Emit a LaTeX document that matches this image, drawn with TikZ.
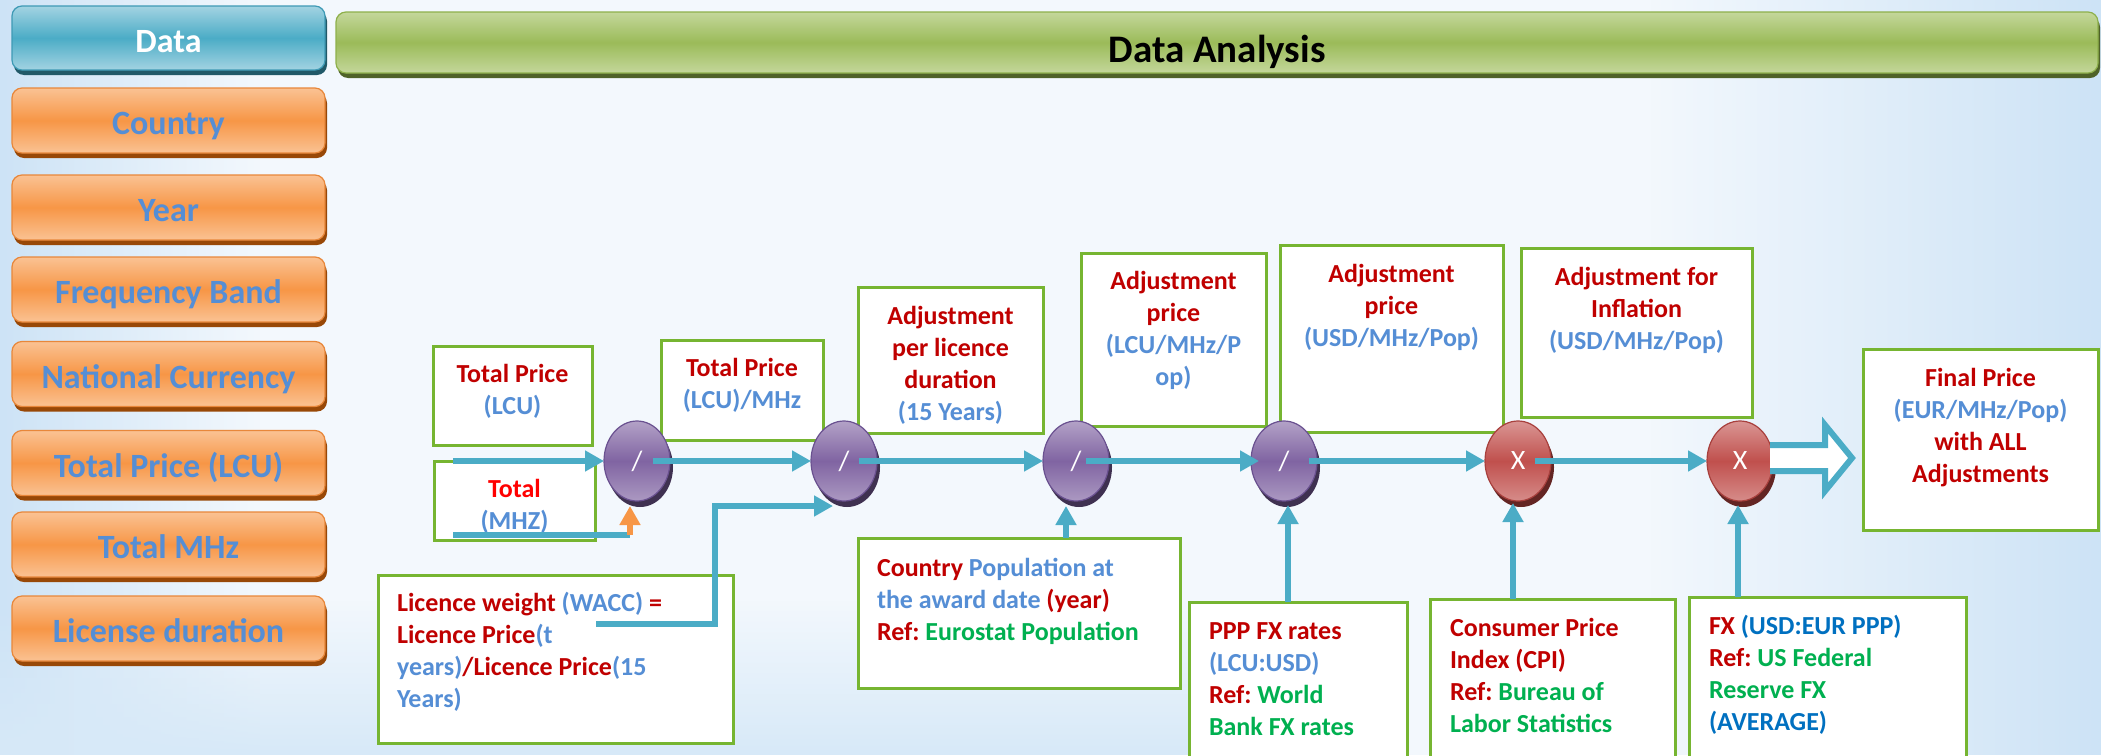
\documentclass[tikz,border=0pt]{standalone}
\usepackage{fontspec}
\setmainfont{Carlito}
\frenchspacing
\usetikzlibrary{arrows.meta,shapes.geometric,shadows,fadings,calc}

\definecolor{cred}{HTML}{C00000}
\definecolor{cbrred}{HTML}{FF0000}
\definecolor{cblue}{HTML}{558ED5}
\definecolor{cgreen}{HTML}{00B050}
\definecolor{cdblue}{HTML}{0070C0}
\definecolor{gborder}{HTML}{76B531}
\definecolor{ablue}{HTML}{4BACC6}
\definecolor{aorange}{HTML}{F79646}
\definecolor{bgbase}{HTML}{F3F8FD}
\definecolor{bgblue}{HTML}{CDE3F6}
\definecolor{glight}{HTML}{C4D79B}
\definecolor{gmid}{HTML}{9BBB59}
\definecolor{gline}{HTML}{8EB04B}
\definecolor{gdark}{HTML}{4F6228}
\definecolor{blight}{HTML}{A3D3E2}
\definecolor{bmid}{HTML}{4BACC6}
\definecolor{bline}{HTML}{3E9AB5}
\definecolor{bdark}{HTML}{215968}
\definecolor{olight}{HTML}{FAC293}
\definecolor{omid}{HTML}{F79646}
\definecolor{oline}{HTML}{E8873A}
\definecolor{odark}{HTML}{984807}
\definecolor{plight}{HTML}{B3A2C7}
\definecolor{pmid}{HTML}{8064A2}
\definecolor{pline}{HTML}{6A5190}
\definecolor{pdark}{HTML}{3F3151}
\definecolor{rlight}{HTML}{DA9694}
\definecolor{rmid}{HTML}{C0504D}
\definecolor{rline}{HTML}{A8403D}
\definecolor{rdark}{HTML}{632523}

\newcommand\cR[1]{\textcolor{cred}{#1}}
\newcommand\cRR[1]{\textcolor{cbrred}{#1}}
\newcommand\cB[1]{\textcolor{cblue}{#1}}
\newcommand\cG[1]{\textcolor{cgreen}{#1}}
\newcommand\cD[1]{\textcolor{cdblue}{#1}}
\newcommand\ctab[1]{\begin{tabular}[t]{@{}c@{}}#1\end{tabular}}
\newcommand\ltab[1]{\begin{tabular}[t]{@{}l@{}}#1\end{tabular}}

\tikzfading[name=fadeRight, left color=transparent!0, right color=transparent!100]
\tikzfading[name=fadeLeft, left color=transparent!100, right color=transparent!0]
\tikzfading[name=fadeUp, bottom color=transparent!0, top color=transparent!100]

\begin{document}
\begin{tikzpicture}[x=1pt,y=-1pt,
  every node/.style={inner sep=0pt, outer sep=0pt},
  side/.style={rounded corners=10pt, line width=1.2pt, minimum width=313pt, minimum height=65pt,
    font=\fontsize{34}{40}\selectfont\bfseries, text height=28pt, text depth=0pt},
  obox/.style={side, draw=oline, top color=olight, bottom color=olight, middle color=omid, text=cblue,
    drop shadow={shadow xshift=2pt, shadow yshift=-5pt, fill=odark, opacity=1}},
  dbox/.style={side, draw=bline, top color=blight, bottom color=blight, middle color=bmid, text=white,
    minimum height=64pt,
    drop shadow={shadow xshift=2pt, shadow yshift=-5pt, fill=bdark, opacity=1}},
  hbox/.style={side, draw=gline, top color=glight, bottom color=glight, middle color=gmid, text=black,
    minimum width=1762pt, minimum height=61pt, font=\fontsize{39}{44}\selectfont\bfseries,
    text height=39pt,
    drop shadow={shadow xshift=2pt, shadow yshift=-5pt, fill=gdark, opacity=1}},
  gbox/.style={draw=gborder, line width=3pt, fill=white},
  txt/.style={font=\fontsize{26}{32}\selectfont\bfseries, anchor=base},
  txtl/.style={txt, anchor=base west},
  circ/.style={ellipse, minimum width=66pt, minimum height=80pt, line width=1.2pt, text=white,
    font=\fontsize{28}{32}\selectfont},
  pcirc/.style={circ, draw=pline, top color=plight, bottom color=plight!85!pmid, middle color=pmid,
    drop shadow={shadow xshift=3pt, shadow yshift=-6pt, fill=pdark, opacity=1}},
  rcirc/.style={circ, draw=rline, top color=rlight, bottom color=rlight!85!rmid, middle color=rmid,
    drop shadow={shadow xshift=3pt, shadow yshift=-6pt, fill=rdark, opacity=1}},
  flow/.style={draw=ablue, line width=6.5pt, -{Triangle[length=19pt,width=20pt]}},
  flowline/.style={draw=ablue, line width=6.5pt},
  oflow/.style={draw=aorange, line width=6pt, -{Triangle[length=19pt,width=20pt]}}
]
\useasboundingbox (0,0) rectangle (2101,755);
% background
\fill[bgbase] (0,0) rectangle (2101,755);
\fill[bgblue, path fading=fadeRight] (0,0) rectangle (260,755);
\fill[bgblue, path fading=fadeLeft] (1650,0) rectangle (2101,755);
\fill[bgblue!80, path fading=fadeUp] (0,600) rectangle (1200,755);

% left column
\node[dbox] (data) at (168.5,38) {Data};
\node[obox] (country) at (168.5,120.5) {Country};
\node[obox] (year) at (168.5,207.5) {Year};
\node[obox] (freq) at (168.5,289.5) {Frequency Band};
\node[obox] (natcur) at (168.5,374) {National Currency};
\node[obox] (tplcu) at (168.5,463) {Total Price (LCU)};
\node[obox] (tmhz) at (168.5,544.5) {Total MHz};
\node[obox] (lidur) at (168.5,628.5) {License duration};

% header
\node[hbox] (hdr) at (1217,42.5) {Data Analysis};

% flow boxes
\node[gbox, minimum width=159pt, minimum height=99pt] (b1) at (512.5,395.5) {};
\node[gbox, minimum width=161pt, minimum height=79pt] (b2) at (514.5,500.5) {};
\node[gbox, minimum width=162pt, minimum height=100pt] (b3) at (742,390) {};
\node[gbox, minimum width=185pt, minimum height=146pt] (b4) at (950.5,360) {};
\node[gbox, minimum width=185pt, minimum height=173pt] (b5) at (1173.5,339.5) {};
\node[gbox, minimum width=223pt, minimum height=187pt] (b6) at (1391.5,338.5) {};
\node[gbox, minimum width=231pt, minimum height=169pt] (b7) at (1636.5,332.5) {};
\node[gbox, minimum width=235pt, minimum height=181pt] (b8) at (1980.5,439.5) {};
\node[gbox, minimum width=355pt, minimum height=168pt] (lw) at (555.5,659) {};
\node[gbox, minimum width=322pt, minimum height=150pt] (p1) at (1019,613) {};
\node[gbox, minimum width=218pt, minimum height=168pt] (p2) at (1298,686) {};
\node[gbox, minimum width=245pt, minimum height=171pt] (p3) at (1552.5,684.5) {};
\node[gbox, minimum width=277pt, minimum height=173pt] (p4) at (1827.5,683.5) {};

% box texts
\node[txt] (t1) at (512.5,382) {\ctab{\cR{Total Price}\\\cB{(LCU)}}};
\node[txt] (t2) at (514.5,497) {\ctab{\cRR{Total}\\\cB{(MHZ)}}};
\node[txt] (t3) at (742,376) {\ctab{\cR{Total Price}\\\cB{(LCU)/MHz}}};
\node[txt] (t4) at (950.5,324) {\ctab{\cR{Adjustment}\\\cR{per licence}\\\cR{duration}\\\cB{(15 Years)}}};
\node[txt] (t5) at (1173.5,289) {\ctab{\cR{Adjustment}\\\cR{price}\\\cB{(LCU/MHz/P}\\\cB{op)}}};
\node[txt] (t6) at (1391.5,282) {\ctab{\cR{Adjustment}\\\cR{price}\\\cB{(USD/MHz/Pop)}}};
\node[txt] (t7) at (1636.5,285) {\ctab{\cR{Adjustment for}\\\cR{Inflation}\\\cB{(USD/MHz/Pop)}}};
\node[txt] (t8) at (1980.5,386) {\ctab{\cR{Final Price}\\\cB{(EUR/MHz/Pop)}\\\cR{with ALL}\\\cR{Adjustments}}};
\node[txtl] (tlw) at (397,611) {\ltab{\cR{Licence weight} \cB{(WACC)} \cR{=}\\\cR{Licence Price}\cB{(t}\\\cB{years)}\cR{/Licence Price}\cB{(15}\\\cB{Years)}}};
\node[txtl] (tp1) at (877,576) {\ltab{\cR{Country} \cB{Population at}\\\cB{the award date} \cR{(year)}\\\cR{Ref:} \cG{Eurostat Population}}};
\node[txtl] (tp2) at (1209,639) {\ltab{\cR{PPP FX rates}\\\cB{(LCU:USD)}\\\cR{Ref:} \cG{World}\\\cG{Bank FX rates}}};
\node[txtl] (tp3) at (1450,636) {\ltab{\cR{Consumer Price}\\\cR{Index (CPI)}\\\cR{Ref:} \cG{Bureau of}\\\cG{Labor Statistics}}};
\node[txtl] (tp4) at (1709,634) {\ltab{\cR{FX} \cD{(USD:EUR PPP)}\\\cR{Ref:} \cG{US Federal}\\\cG{Reserve FX}\\\cD{(AVERAGE)}}};

% operator circles
\node[pcirc] (c1) at (637,461) {/};
\node[pcirc] (c2) at (844,461) {/};
\node[pcirc] (c3) at (1076,461) {/};
\node[pcirc] (c4) at (1284,461) {/};
\node[rcirc] (c5) at (1518,461) {X};
\node[rcirc] (c6) at (1740,461) {X};

% connectors
\coordinate (s1) at (453,461);
\coordinate (s2) at (453,535);
\coordinate (o1) at (630,535);
\coordinate (o1t) at (630,506);
\coordinate (lws) at (596,624);
\coordinate (c2in) at (833,506);
\draw[flow] (s1) -- (c1.west);
\draw[flowline] (s2) -- (o1);
\draw[oflow] (o1) -- (o1t);
\draw[flow, line join=miter] (lws) -- (715,624) |- (c2in);
\draw[flow] ([xshift=16pt]c1.center) -- (c2.west);
\draw[flow] ([xshift=15pt]c2.center) -- (c3.west);
\draw[flow] ([xshift=10pt]c3.center) -- ([xshift=8pt]c4.west);
\draw[flow] ([xshift=25pt]c4.center) -- (c5.west);
\draw[flow] ([xshift=17pt]c5.center) -- (c6.west);

\coordinate (c3b) at ([xshift=-10pt,yshift=-5pt]c3.south);
\coordinate (c4b) at ([xshift=4pt,yshift=-4pt]c4.south);
\coordinate (c5b) at ([xshift=-5pt,yshift=-2pt]c5.south);
\coordinate (c6b) at ([xshift=-2pt,yshift=-4pt]c6.south);
\draw[flow] (p1.north -| c3b) -- (c3b);
\draw[flow] (p2.north -| c4b) -- (c4b);
\draw[flow] (p3.north -| c5b) -- (c5b);
\draw[flow] (p4.north -| c6b) -- (c6b);

% double output arrow
\coordinate (fa) at (1770,458);
\filldraw[fill=white, draw=ablue, line width=6pt, line join=miter]
  (fa) ++(0,-13) -- ++(55,0) -- ++(0,-20) -- ++(27,33) -- ++(-27,33) -- ++(0,-20) -- ++(-55,0);
\end{tikzpicture}
\end{document}
